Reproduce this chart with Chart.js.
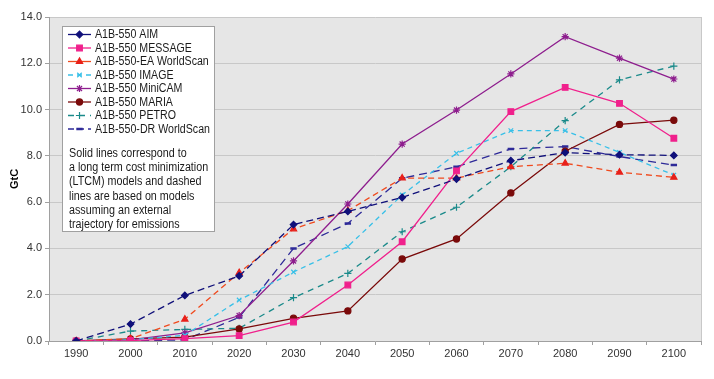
<!DOCTYPE html>
<html>
<head>
<meta charset="utf-8">
<script src="https://cdn.jsdelivr.net/npm/chart.js@4.4.1/dist/chart.umd.min.js"></script>
<style>
html,body{margin:0;padding:0;background:#fff;}
#wrap{width:714px;height:379px;position:relative;}
</style>
</head>
<body>
<div id="wrap"><canvas id="c" width="714" height="379"></canvas></div>
<script>
const years = ['1990','2000','2010','2020','2030','2040','2050','2060','2070','2080','2090','2100'];
const aim     = [0, 0.73, 1.97, 2.81, 5.03, 5.60, 6.20, 7.00, 7.79, 8.14, 8.05, 8.02];
const message = [0, 0.02, 0.10, 0.23, 0.82, 2.42, 4.29, 7.35, 9.91, 10.96, 10.27, 8.76];
const eaWorldScan = [0, 0.10, 0.94, 2.95, 4.84, 5.63, 7.04, 7.04, 7.53, 7.68, 7.29, 7.07];
const image   = [0, 0.05, 0.25, 1.77, 2.98, 4.08, 6.31, 8.11, 9.09, 9.09, 8.15, 7.17];
const minicam = [0, 0.05, 0.35, 1.10, 3.46, 5.92, 8.51, 9.98, 11.54, 13.15, 12.22, 11.32];
const maria   = [0, 0.09, 0.17, 0.52, 0.98, 1.30, 3.54, 4.41, 6.40, 8.20, 9.36, 9.54];
const petro   = [0, 0.43, 0.50, 0.55, 1.87, 2.92, 4.72, 5.78, 7.53, 9.52, 11.28, 11.88];
const drWorldScan = [0, 0.00, 0.05, 1.02, 4.00, 5.08, 7.03, 7.53, 8.30, 8.40, 7.97, 7.60];
const seriesNames = ['A1B-550 AIM','A1B-550 MESSAGE','A1B-550-EA WorldScan','A1B-550 IMAGE','A1B-550 MiniCAM','A1B-550 MARIA','A1B-550 PETRO','A1B-550-DR WorldScan'];
const yTicks = [0,2,4,6,8,10,12,14];
const noteLines = ['Solid lines correspond to','a long term cost minimization','(LTCM) models and dashed','lines are based on models','assuming an external','trajectory for emissions'];

const FONT = '"Liberation Sans", Arial, sans-serif';

function ds(label, data, color, dash, style, radius, legendDash, ptColor){
  return {label, data, borderColor: color, backgroundColor: ptColor||color,
    pointBorderColor: ptColor||color, pointBackgroundColor: ptColor||color,
    borderWidth: 1.3, borderDash: dash, pointStyle: style, pointRadius: radius,
    pointBorderWidth: 1.2, tension: 0, fill: false, legendDash: legendDash};
}
const datasets = [
  ds(seriesNames[0], aim, '#10107a', [7,4], 'rectRot', 3.3, []),
  ds(seriesNames[1], message, '#f0208c', [], 'rect', 4),
  ds(seriesNames[2], eaWorldScan, '#f04a1e', [6,4], 'triangle', 3.6, [], '#e8201a'),
  ds(seriesNames[3], image, '#38c0e8', [5,4], 'crossRot', 3.2),
  ds(seriesNames[4], minicam, '#8e1e8e', [], 'star', 3.6),
  ds(seriesNames[5], maria, '#7a0a0a', [], 'circle', 3.1),
  ds(seriesNames[6], petro, '#1a8a8a', [6,5], 'cross', 3.6),
  ds(seriesNames[7], drWorldScan, '#2e2a98', [8,5], 'line', 3.2, [6,4])
];
datasets[7].pointBorderWidth = 2.5;

const bgPlugin = {
  id: 'bg',
  beforeDraw(chart){
    const {ctx, chartArea:a} = chart;
    ctx.save();
    ctx.fillStyle = '#e6e6e6';
    ctx.fillRect(a.left, a.top, a.right-a.left, a.bottom-a.top);
    ctx.strokeStyle = '#c8c8c8';
    ctx.lineWidth = 1;
    ctx.beginPath();
    ctx.moveTo(a.right+0.5, a.top); ctx.lineTo(a.right+0.5, a.bottom);
    ctx.stroke();
    ctx.restore();
  }
};

function narrowText(ctx, t, x, y, sx){
  ctx.save();
  ctx.translate(x, y);
  ctx.scale(sx, 1);
  ctx.fillText(t, 0, 0);
  ctx.restore();
}

const legendPlugin = {
  id: 'customLegend',
  afterDraw(chart){
    const ctx = chart.ctx;
    ctx.save();
    const bx=62.5, by=26.5, bw=152, bh=205;
    ctx.fillStyle='#fff';
    ctx.fillRect(bx,by,bw,bh);
    ctx.strokeStyle='#a0a0a0';
    ctx.lineWidth=1;
    ctx.strokeRect(bx,by,bw,bh);
    ctx.font = '12.5px ' + FONT;
    ctx.textBaseline='middle';
    chart.data.datasets.forEach((d,i)=>{
      const y = 34.5 + i*13.5;
      ctx.save();
      ctx.strokeStyle=d.borderColor;
      ctx.lineWidth=1.3;
      ctx.setLineDash(d.legendDash!==undefined ? d.legendDash : d.borderDash);
      ctx.beginPath(); ctx.moveTo(68,y); ctx.lineTo(91,y); ctx.stroke();
      ctx.setLineDash([]);
      ctx.restore();
      ctx.save();
      ctx.strokeStyle=d.pointBorderColor; ctx.fillStyle=d.pointBackgroundColor;
      ctx.lineWidth=d.pointBorderWidth;
      Chart.helpers.drawPoint(ctx, {pointStyle:d.pointStyle, radius:d.pointRadius, borderWidth:d.pointBorderWidth, rotation:0}, 79.5, y);
      ctx.restore();
      ctx.fillStyle='#1a1a1a';
      narrowText(ctx, d.label, 95, y+0.5, 0.85);
    });
    noteLines.forEach((t,i)=>{
      narrowText(ctx, t, 69, 153.5 + i*14.25, 0.86);
    });
    ctx.restore();
  }
};

new Chart(document.getElementById('c'), {
  type: 'line',
  data: { labels: years, datasets },
  options: {
    responsive: false,
    animation: false,
    events: [],
    layout: { padding: { top: 17, right: 13, left: 0, bottom: 0 } },
    plugins: { legend: { display: false }, tooltip: { enabled: false } },
    scales: {
      x: {
        offset: true,
        grid: { offset: true, drawOnChartArea: false, drawTicks: true, tickLength: 4, color: '#a0a0a0', tickColor: '#a0a0a0' },
        border: { color: '#a0a0a0', width: 1 },
        ticks: { color: '#333', font: { family: FONT, size: 11 }, padding: 2, maxRotation: 0, autoSkip: false },
        afterFit(s){ s.height = 38; }
      },
      y: {
        min: 0, max: 14,
        afterBuildTicks(s){ s.ticks = yTicks.map(v=>({value:v})); },
        grid: { color: '#c8c8c8', tickColor: '#a0a0a0', tickLength: 4, lineWidth: 1 },
        border: { color: '#a0a0a0', width: 1 },
        ticks: { color: '#333', font: { family: FONT, size: 11 }, padding: 3, callback: v => Number(v).toFixed(1) },
        title: { display: true, text: 'GtC', color: '#000', font: { family: FONT, size: 11, weight: 'bold' }, padding: { top: 8, bottom: 0 } },
        afterFit(s){ s.width = 49; }
      }
    }
  },
  plugins: [bgPlugin, legendPlugin]
});
</script>
</body>
</html>
